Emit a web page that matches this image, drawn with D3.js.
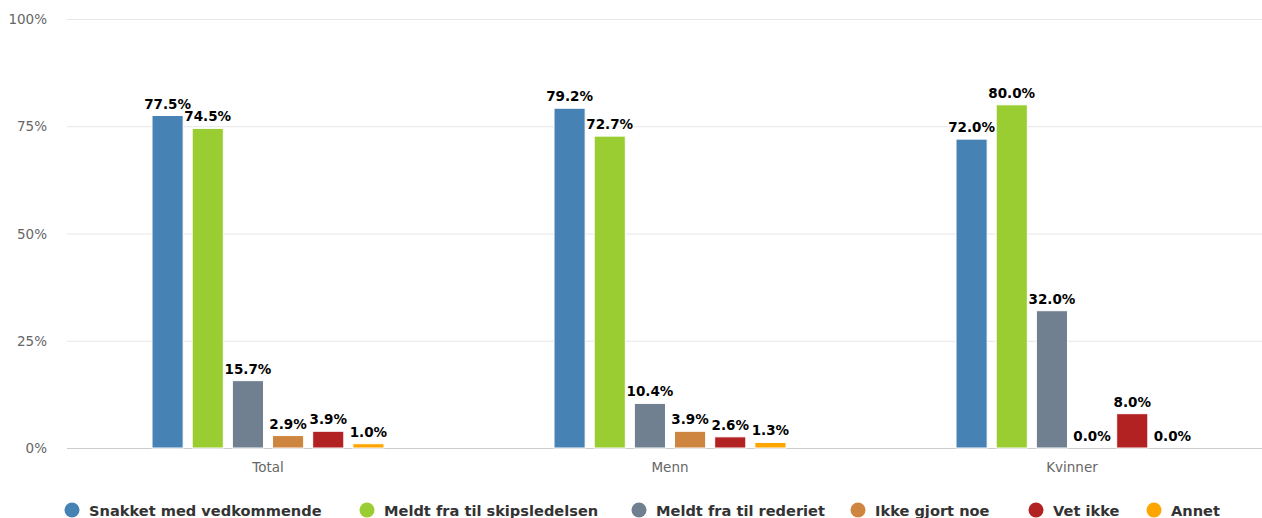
<!DOCTYPE html>
<html><head><meta charset="utf-8">
<script src="https://cdn.jsdelivr.net/npm/d3@7"></script>
<style>body{margin:0;background:#fff}svg{display:block;font-family:"DejaVu Sans",Verdana,sans-serif}</style>
</head><body><svg id="c" width="1262" height="518"></svg>
<script>
const categories = ["Total", "Menn", "Kvinner"];
const seriesNames = ["Snakket med vedkommende", "Meldt fra til skipsledelsen", "Meldt fra til rederiet", "Ikke gjort noe", "Vet ikke", "Annet"];
const snakket = [77.5, 79.2, 72.0];
const skipsledelsen = [74.5, 72.7, 80.0];
const rederiet = [15.7, 10.4, 32.0];
const ikkeGjort = [2.9, 3.9, 0.0];
const vetIkke = [3.9, 2.6, 8.0];
const annet = [1.0, 1.3, 0.0];
const yTicks = [0, 25, 50, 75, 100];
const colors = ["#4682B4", "#9ACD32", "#708090", "#CD853F", "#B22222", "#FFA500"];

const seriesValues = [snakket, skipsledelsen, rederiet, ikkeGjort, vetIkke, annet];
const svg = d3.select("#c");
const pLeft = 67, pRight = 1273, pTop = 19, pBottom = 448;

const x0 = d3.scaleBand().domain(categories).range([pLeft, pRight]);
const x1 = d3.scaleBand().domain(seriesNames).range([81, 321]).paddingInner(0.225).paddingOuter(0.1);
const y = d3.scaleLinear().domain([0, 100]).range([pBottom, pTop]);

// grid
svg.append("g").selectAll("line").data(yTicks.filter(d => d > 0)).join("line")
  .attr("x1", pLeft).attr("x2", 1262).attr("y1", d => y(d) + 0.5).attr("y2", d => y(d) + 0.5)
  .attr("stroke", "#e6e6e6").attr("stroke-width", 1);
// y labels
svg.append("g").selectAll("text").data(yTicks).join("text")
  .attr("x", 47).attr("y", d => y(d) + 5).attr("text-anchor", "end")
  .attr("fill", "#666").style("font-size", "13.5px").text(d => d + "%");
// x axis line
svg.append("line").attr("x1", pLeft).attr("x2", 1262).attr("y1", pBottom + 0.5).attr("y2", pBottom + 0.5)
  .attr("stroke", "#cccccc").attr("stroke-width", 1);
// x labels
svg.append("g").selectAll("text").data(categories).join("text")
  .attr("x", d => x0(d) + x0.bandwidth() / 2).attr("y", 472).attr("text-anchor", "middle")
  .attr("fill", "#666").style("font-size", "13.5px").text(d => d);

// bars
const groups = svg.append("g").selectAll("g").data(categories).join("g")
  .attr("transform", d => `translate(${x0(d)},0)`);
groups.each(function (cat, ci) {
  const g = d3.select(this);
  seriesNames.forEach((s, si) => {
    const v = seriesValues[si][ci];
    const bx = x1(s), bw = x1.bandwidth();
    if (v > 0) {
      g.append("rect").attr("x", bx).attr("y", y(v)).attr("width", bw).attr("height", pBottom - y(v))
        .attr("fill", colors[si]).attr("stroke", "#fff").attr("stroke-width", 1);
    }
    g.append("text").attr("x", bx + bw / 2).attr("y", y(v) - 7).attr("text-anchor", "middle")
      .attr("fill", "#000").style("font-size", "13.5px").style("font-weight", "bold")
      .attr("stroke", "#fff").attr("stroke-width", 2).attr("paint-order", "stroke")
      .text(v.toFixed(1) + "%");
  });
});

// legend
const legendX = [72, 367, 639, 858, 1036, 1154];
const lg = svg.append("g").selectAll("g").data(seriesNames).join("g")
  .attr("transform", (d, i) => `translate(${legendX[i]},510)`);
lg.append("circle").attr("r", 7.5).attr("cy", 0).attr("fill", (d, i) => colors[i]);
lg.append("text").attr("x", 17).attr("y", 5.5).attr("fill", "#333")
  .style("font-size", "14.6px").style("font-weight", "bold").text(d => d);
</script></body></html>
